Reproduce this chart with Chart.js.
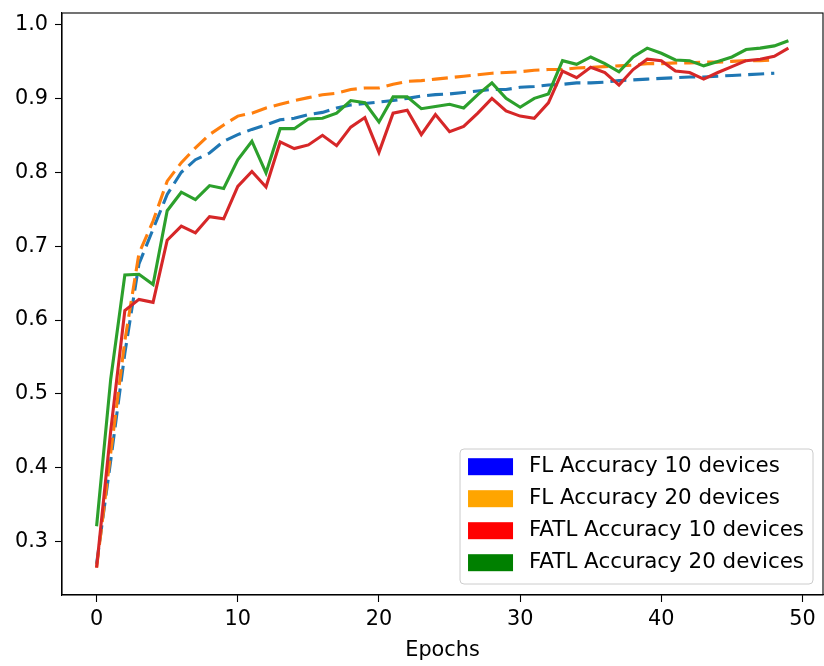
<!DOCTYPE html>
<html>
<head>
<meta charset="utf-8">
<title>Accuracy vs Epochs</title>
<script src="https://cdn.jsdelivr.net/npm/chart.js@4.4.1/dist/chart.umd.min.js"></script>
<style>
    html, body { margin: 0; padding: 0; background: #fff; }
    #wrap { width: 824px; height: 666px; }
</style>
</head>
<body>
<div id="wrap"><canvas id="accChart" width="824" height="666"></canvas></div>
<script>
// Data
var epochs = [0, 1, 2, 3, 4, 5, 6, 7, 8, 9,
    10, 11, 12, 13, 14, 15, 16, 17, 18, 19,
    20, 21, 22, 23, 24, 25, 26, 27, 28, 29,
    30, 31, 32, 33, 34, 35, 36, 37, 38, 39,
    40, 41, 42, 43, 44, 45, 46, 47, 48, 49];

var flAcc10 = [0.270, 0.410, 0.555, 0.676, 0.723, 0.770, 0.800, 0.817, 0.826, 0.842,
    0.851, 0.858, 0.864, 0.871, 0.873, 0.878, 0.881, 0.887, 0.891, 0.893,
    0.895, 0.897, 0.900, 0.903, 0.905, 0.906, 0.908, 0.910, 0.912, 0.912,
    0.915, 0.916, 0.918, 0.919, 0.921, 0.921, 0.922, 0.924, 0.925, 0.926,
    0.927, 0.928, 0.929, 0.929, 0.930, 0.931, 0.932, 0.933, 0.934];

var flAcc20 = [0.265, 0.420, 0.572, 0.690, 0.734, 0.788, 0.813, 0.833, 0.851, 0.864,
    0.876, 0.880, 0.887, 0.892, 0.897, 0.901, 0.905, 0.907, 0.912, 0.914,
    0.914, 0.919, 0.923, 0.924, 0.926, 0.928, 0.930, 0.932, 0.934, 0.935,
    0.936, 0.938, 0.939, 0.939, 0.941, 0.942, 0.943, 0.944, 0.945, 0.947,
    0.947, 0.948, 0.948, 0.949, 0.949, 0.950, 0.951, 0.951, 0.952];

var fatlAcc10 = [0.265, 0.450, 0.613, 0.628, 0.624, 0.708, 0.727, 0.718, 0.740, 0.737,
    0.781, 0.801, 0.780, 0.841, 0.832, 0.837, 0.850, 0.836, 0.861, 0.874,
    0.827, 0.880, 0.884, 0.851, 0.878, 0.855, 0.862, 0.880, 0.900, 0.883,
    0.876, 0.873, 0.894, 0.937, 0.928, 0.942, 0.935, 0.918, 0.939, 0.953,
    0.951, 0.937, 0.935, 0.926, 0.935, 0.943, 0.951, 0.953, 0.957, 0.968];

var fatlAcc20 = [0.321, 0.520, 0.661, 0.662, 0.648, 0.748, 0.773, 0.763, 0.782, 0.778,
    0.817, 0.842, 0.799, 0.859, 0.859, 0.872, 0.873, 0.880, 0.897, 0.894,
    0.868, 0.902, 0.902, 0.886, 0.889, 0.892, 0.887, 0.905, 0.921, 0.900,
    0.888, 0.900, 0.906, 0.951, 0.946, 0.956, 0.947, 0.936, 0.956, 0.968,
    0.961, 0.952, 0.951, 0.944, 0.950, 0.956, 0.966, 0.968, 0.971, 0.978];

var xTicks = [0, 10, 20, 30, 40, 50];
var yTicks = [0.3, 0.4, 0.5, 0.6, 0.7, 0.8, 0.9, 1.0];

var legendLabels = ['FL Accuracy 10 devices', 'FL Accuracy 20 devices',
    'FATL Accuracy 10 devices', 'FATL Accuracy 20 devices'];
var legendColors = ['#0000ff', '#ffa500', '#ff0000', '#008000'];

var FONT = 'DejaVu Sans';
var FONT_SIZE = 20.8;
var LEGEND_FONT_SIZE = 21.4;

function toPoints(values) {
    return values.map(function(v, i) {
        return { x: epochs[i], y: v };
    });
}

// frame on all four sides plus the legend box in the lower right corner
var frameAndLegend = {
    id: 'frameAndLegend',
    afterDraw: function(chart) {
        var ctx = chart.ctx;
        var a = chart.chartArea;
        ctx.save();
        ctx.strokeStyle = '#000';
        ctx.lineWidth = 1.1;
        ctx.strokeRect(a.left, a.top, a.right - a.left, a.bottom - a.top);

        ctx.font = LEGEND_FONT_SIZE + 'px "' + FONT + '"';
        var maxW = 0;
        legendLabels.forEach(function(t) {
            maxW = Math.max(maxW, ctx.measureText(t).width);
        });
        var boxW = 69 + maxW + 9;
        var boxH = 135;
        var bx = a.right - 10 - boxW;
        var by = a.bottom - 11 - boxH;

        ctx.beginPath();
        ctx.roundRect(bx, by, boxW, boxH, 4);
        ctx.fillStyle = 'rgba(255,255,255,0.8)';
        ctx.fill();
        ctx.strokeStyle = '#cccccc';
        ctx.lineWidth = 1;
        ctx.stroke();

        ctx.textBaseline = 'middle';
        ctx.textAlign = 'left';
        legendLabels.forEach(function(t, i) {
            var cy = by + 17.7 + i * 32;
            ctx.fillStyle = legendColors[i];
            ctx.fillRect(bx + 8, cy - 8.5, 45, 17);
            ctx.fillStyle = '#000';
            ctx.fillText(t, bx + 69, cy);
        });
        ctx.restore();
    }
};

Chart.defaults.font.family = FONT;
Chart.defaults.font.size = FONT_SIZE;
Chart.defaults.color = '#000';

var ctx = document.getElementById('accChart').getContext('2d');
var chart = new Chart(ctx, {
    type: 'line',
    data: {
        datasets: [{
            label: legendLabels[0],
            data: toPoints(flAcc10),
            borderColor: '#1f77b4',
            borderDash: [16, 7],
            order: 4
        }, {
            label: legendLabels[1],
            data: toPoints(flAcc20),
            borderColor: '#ff7f0e',
            borderDash: [16, 7],
            order: 3
        }, {
            label: legendLabels[2],
            data: toPoints(fatlAcc10),
            borderColor: '#d62728',
            order: 2
        }, {
            label: legendLabels[3],
            data: toPoints(fatlAcc20),
            borderColor: '#2ca02c',
            order: 1
        }]
    },
    options: {
        responsive: false,
        animation: false,
        devicePixelRatio: 1,
        layout: { padding: { top: 13, right: 1, left: 0, bottom: 0 } },
        elements: {
            point: { radius: 0 },
            line: { borderWidth: 3.1, tension: 0, fill: false, borderCapStyle: 'butt' }
        },
        plugins: {
            legend: { display: false },
            tooltip: { enabled: false }
        },
        scales: {
            x: {
                type: 'linear',
                min: -2.45,
                max: 51.45,
                afterBuildTicks: function(scale) {
                    scale.ticks = xTicks.map(function(v) { return { value: v }; });
                },
                afterFit: function(scale) {
                    scale.height = 71;
                    scale.paddingLeft = 0;
                    scale.paddingRight = 0;
                },
                grid: { drawOnChartArea: false, tickLength: 7, tickWidth: 1.1, tickColor: '#000' },
                border: { color: '#000', width: 1.1 },
                ticks: { padding: 5, maxRotation: 0, color: '#000' },
                title: { display: true, text: 'Epochs', color: '#000', padding: { top: 0, bottom: 3 } }
            },
            y: {
                type: 'linear',
                min: 0.228,
                max: 1.0155,
                afterBuildTicks: function(scale) {
                    scale.ticks = yTicks.map(function(v) { return { value: v }; });
                },
                afterFit: function(scale) {
                    scale.width = 62;
                    scale.paddingTop = 0;
                    scale.paddingBottom = 0;
                },
                grid: { drawOnChartArea: false, tickLength: 7, tickWidth: 1.1, tickColor: '#000' },
                border: { color: '#000', width: 1.1 },
                ticks: {
                    padding: 7,
                    color: '#000',
                    callback: function(value) { return value.toFixed(1); }
                }
            }
        }
    },
    plugins: [frameAndLegend]
});
</script>
</body>
</html>
